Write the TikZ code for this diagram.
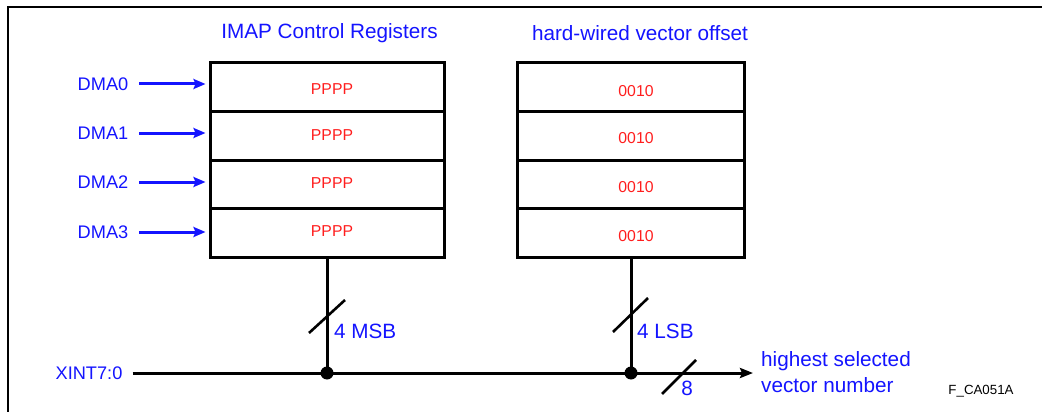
\documentclass[tikz,border=0pt]{standalone}
\usepackage{fontspec}
\setmainfont{Liberation Sans}
\usetikzlibrary{arrows.meta}
\definecolor{lblblue}{RGB}{20,20,255}
\definecolor{valred}{RGB}{255,30,30}
\tikzset{
  frame/.style={line width=2.3pt},
  lrow/.style={draw, line width=3pt, minimum width=234pt, minimum height=48.5pt, inner sep=0pt},
  rrow/.style={draw, line width=3pt, minimum width=227pt, minimum height=48.5pt, inner sep=0pt},
  val/.style={text=valred, font=\fontsize{15.8}{18}\selectfont, inner sep=0pt},
  title/.style={text=lblblue, font=\fontsize{20.7}{24}\selectfont, inner sep=0pt},
  dmalbl/.style={text=lblblue, font=\fontsize{18.2}{21}\selectfont, inner sep=0pt},
  dmaarrow/.style={draw=lblblue, line width=3pt, -{Stealth[length=12pt,width=10pt,inset=2pt]}},
  bus/.style={line width=3pt},
  slash/.style={line width=2.6pt},
  buslbl/.style={text=lblblue, font=\fontsize{20.7}{26}\selectfont, inner sep=0pt},
  junction/.style={circle, fill=black, minimum size=13pt, inner sep=0pt},
  figid/.style={font=\fontsize{13.3}{16}\selectfont, inner sep=0pt}
}
\begin{document}
\begin{tikzpicture}[x=1pt,y=-1pt]
\useasboundingbox (0,0) rectangle (1042,412);
\fill[white] (0,0) rectangle (1042,412);
% outer frame (open right and bottom)
\draw[frame] (8,420) -- (8,7) -- (1050,7);

% titles
\node[title] (t1) at (329.5,33.5) {IMAP Control Registers};
\node[title] (t2) at (640,33.5) {hard-wired vector offset};

% left register stack
\node[lrow] (l0) at (327,87.25) {};
\node[lrow] (l1) at (327,135.75) {};
\node[lrow] (l2) at (327,184.25) {};
\node[lrow] (l3) at (327,232.75) {};
\node[val] (lv0) at (332,89) {PPPP};
\node[val] (lv1) at (332,135.5) {PPPP};
\node[val] (lv2) at (332,183.5) {PPPP};
\node[val] (lv3) at (332,231.5) {PPPP};

% right register stack
\node[rrow] (r0) at (630.5,87.25) {};
\node[rrow] (r1) at (630.5,135.75) {};
\node[rrow] (r2) at (630.5,184.25) {};
\node[rrow] (r3) at (630.5,232.75) {};
\node[val] (rv0) at (636,91.5) {0010};
\node[val] (rv1) at (636,138) {0010};
\node[val] (rv2) at (636,187) {0010};
\node[val] (rv3) at (636,236) {0010};

% DMA inputs
\node[dmalbl] (d0) at (103,84) {DMA0};
\node[dmalbl] (d1) at (103,133) {DMA1};
\node[dmalbl] (d2) at (103,182) {DMA2};
\node[dmalbl] (d3) at (103,232) {DMA3};
\foreach \i in {0,1,2,3}{
  \draw[dmaarrow, shorten <=11pt, shorten >=3pt] (d\i.east) -- (d\i.east -| l\i.west);
}

% bus
\node[dmalbl] (x) at (89,373) {XINT7:0};
\coordinate (j1) at (327,373);
\coordinate (j2) at (631,373);
\coordinate (out) at (753,373);
\draw[bus] (l3.south) -- (j1);
\draw[bus] (r3.south -| j2) -- (j2);
\draw[bus, shorten <=10pt, -{Stealth[length=13pt,width=10pt,inset=2pt]}] (x.east) -- (out);
\node[junction] at (j1) {};
\node[junction] at (j2) {};

% bus width slashes
\draw[slash] (309,333) -- (345,300);
\draw[slash] (613,332) -- (648,298);
\draw[slash] (662,394) -- (696,360);

\node[buslbl, anchor=west] (m) at (334,331.5) {4 MSB};
\node[buslbl, anchor=west] (ls) at (637,331.5) {4 LSB};
\node[buslbl] (eight) at (687,388) {8};
\node[buslbl, anchor=west, align=left] (hs) at (761,372) {highest selected\\vector number};

\node[figid] (fid) at (981,391) {F\_CA051A};
\end{tikzpicture}
\end{document}
